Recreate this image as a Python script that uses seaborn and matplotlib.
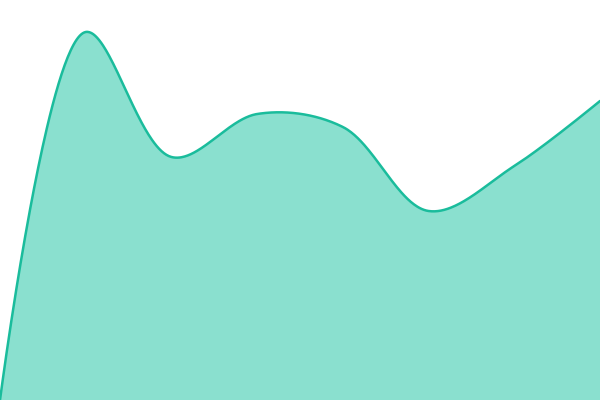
import numpy as np
import pandas as pd
import seaborn as sns
import matplotlib
matplotlib.use("Agg")
import matplotlib.pyplot as plt

# data
x_vals = [0, 1, 2, 3, 4, 5, 6, 7]
y_vals = [0, 368, 243, 286, 273, 189, 234, 299]

LINE = "#1abc9c"
FILL = "#8ae0cf"
W, H = 600.0, 400.0


def catmull_rom(xs, ys, alpha=0.5, n=80):
    # work in pixel units so centripetal parameterisation matches screen
    P = np.column_stack([np.asarray(xs, float) * W / (len(xs) - 1), np.asarray(ys, float)])
    out = []
    t = np.linspace(0, 1, n)
    eps = 1e-12
    for i in range(len(P) - 1):
        p1, p2 = P[i], P[i + 1]
        l12 = np.hypot(*(p2 - p1))
        l12_a, l12_2a = l12 ** alpha, l12 ** (2 * alpha)
        c1 = p1.copy()
        c2 = p2.copy()
        if i > 0:
            p0 = P[i - 1]
            l01 = np.hypot(*(p1 - p0))
            l01_a, l01_2a = l01 ** alpha, l01 ** (2 * alpha)
            if l01_a > eps:
                a = 2 * l01_2a + 3 * l01_a * l12_a + l12_2a
                m = 3 * l01_a * (l01_a + l12_a)
                c1 = (p1 * a - p0 * l12_2a + p2 * l01_2a) / m
        if i + 2 < len(P):
            p3 = P[i + 2]
            l23 = np.hypot(*(p3 - p2))
            l23_a, l23_2a = l23 ** alpha, l23 ** (2 * alpha)
            if l23_a > eps:
                b = 2 * l23_2a + 3 * l23_a * l12_a + l12_2a
                m = 3 * l23_a * (l23_a + l12_a)
                c2 = (p2 * b + p1 * l23_2a - p3 * l12_2a) / m
        seg = (np.outer((1 - t) ** 3, p1) + np.outer(3 * (1 - t) ** 2 * t, c1)
               + np.outer(3 * (1 - t) * t ** 2, c2) + np.outer(t ** 3, p2))
        out.append(seg if i == 0 else seg[1:])
    out = np.vstack(out)
    return out[:, 0], out[:, 1]


sx, sy = catmull_rom(x_vals, y_vals)
df = pd.DataFrame({"x": sx, "y": sy})

sns.set_theme(style="white")
fig = plt.figure(figsize=(6, 4), dpi=100)
ax = fig.add_axes([0, 0, 1, 1])
ax.fill_between(df["x"], 0, df["y"], color=FILL, linewidth=0)
sns.lineplot(data=df, x="x", y="y", ax=ax, color=LINE, linewidth=1.8, sort=False)
ax.set_xlim(0, W)
ax.set_ylim(0, H)
ax.axis("off")
fig.savefig("out.png", dpi=100)
